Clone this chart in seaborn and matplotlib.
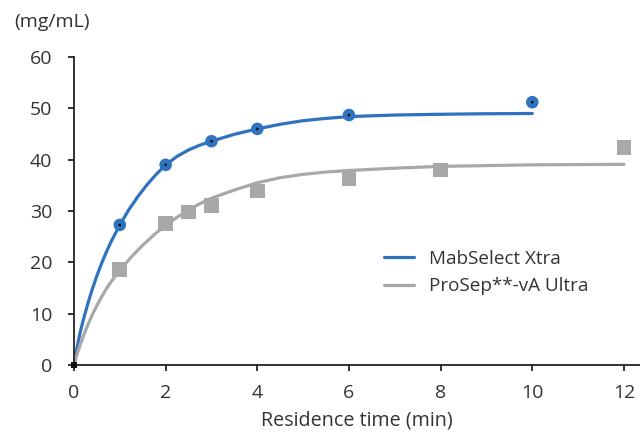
import matplotlib
matplotlib.use("Agg")
import matplotlib.pyplot as plt
import seaborn as sns
import pandas as pd

# measured data points
mab_t = [1, 2, 3, 4, 6, 10]
mab_q = [27.3, 39.0, 43.6, 46.0, 48.7, 51.2]
pro_t = [1, 2, 2.5, 3, 4, 6, 8, 12]
pro_q = [18.6, 27.6, 29.8, 31.1, 33.9, 36.3, 38.0, 42.4]

# fitted curves
mab_curve_t = [0, 0.05, 0.1, 0.15, 0.2, 0.3, 0.4, 0.5, 0.6, 0.7, 0.8, 0.9, 1.0,
               1.2, 1.4, 1.6, 1.8, 2.0, 2.25, 2.5, 2.75, 3.0, 3.5, 4.0, 4.5,
               5.0, 5.5, 6.0, 7.0, 8.0, 9.0, 10.0]
mab_curve_q = [0, 2.6, 4.9, 6.9, 8.7, 11.9, 14.8, 17.4, 19.75, 21.9, 23.85, 25.6, 27.3,
               30.3, 32.9, 35.2, 37.2, 39.0, 40.65, 41.9, 42.85, 43.6, 44.95, 46.0, 46.9,
               47.6, 48.05, 48.4, 48.7, 48.85, 48.95, 49.0]
pro_curve_t = [0, 0.05, 0.1, 0.2, 0.3, 0.4, 0.5, 0.6, 0.7, 0.8, 0.9, 1.0,
               1.25, 1.5, 1.75, 2.0, 2.25, 2.5, 2.75, 3.0, 3.5, 4.0, 4.5, 5.0,
               5.5, 6.0, 7.0, 8.0, 10.0, 12.0]
pro_curve_q = [0, 1.6, 3.0, 5.55, 7.8, 9.8, 11.6, 13.25, 14.75, 16.1, 17.3, 18.4,
               21.05, 23.35, 25.4, 27.2, 28.8, 30.2, 31.45, 32.5, 34.1, 35.5, 36.5, 37.15,
               37.6, 37.9, 38.35, 38.7, 39.0, 39.1]

labels = ["MabSelect Xtra", "ProSep**-vA Ultra"]
x_ticks = [0, 2, 4, 6, 8, 10, 12]
y_ticks = [0, 10, 20, 30, 40, 50, 60]

blue = "#2f72bf"
gray = "#a8a8aa"
txt = "#333333"
fs = 14

sns.set_style("ticks")
plt.rcParams['font.family'] = ['Open Sans', 'DejaVu Sans']

fig = plt.figure(figsize=(6.4, 4.32), dpi=100)
ax = fig.add_axes([0.1156, 0.155, 0.8844, 0.713])

curves = pd.DataFrame({
    "t": mab_curve_t + pro_curve_t,
    "q": mab_curve_q + pro_curve_q,
    "s": [labels[0]] * len(mab_curve_t) + [labels[1]] * len(pro_curve_t),
})
sns.lineplot(data=curves, x="t", y="q", hue="s", palette=[blue, gray],
             linewidth=2.3, ax=ax, sort=False, estimator=None)

sns.scatterplot(x=pro_t, y=pro_q, marker="s", s=112, color=gray,
                edgecolor="none", ax=ax, zorder=4, legend=False)
sns.scatterplot(x=mab_t, y=mab_q, marker="o", s=82, color=blue,
                edgecolor="none", ax=ax, zorder=5, legend=False)
sns.scatterplot(x=mab_t, y=mab_q, marker="o", s=4, color="#111111",
                edgecolor="none", ax=ax, zorder=6, legend=False)
sns.scatterplot(x=[0], y=[0], marker="s", s=20, color="#111111",
                edgecolor="none", ax=ax, zorder=6, legend=False, clip_on=False)

ax.set_xlim(0, 12.35)
ax.set_ylim(0, 60)
ax.set_xticks(x_ticks)
ax.set_yticks(y_ticks)
ax.tick_params(axis="both", labelsize=fs, colors="#222222", labelcolor=txt,
               length=4.5, width=1.3, direction="out")
ax.tick_params(axis="x", pad=9)
ax.tick_params(axis="y", pad=11)
for s in ["left", "bottom"]:
    ax.spines[s].set_linewidth(1.3)
    ax.spines[s].set_color("#222222")
sns.despine(ax=ax)
ax.set_xlabel("Residence time (min)", fontsize=14.2, color=txt, labelpad=6.5)
ax.set_ylabel("")
fig.text(0.022, 0.948, "(mg/mL)", fontsize=fs, color=txt, ha="left", va="center")

leg = ax.legend(loc="upper left", bbox_to_anchor=(0.534, 0.398), frameon=False,
                fontsize=13.6, handlelength=1.6, handletextpad=0.8, labelspacing=0.5,
                borderaxespad=0)
for t in leg.get_texts():
    t.set_color(txt)

fig.savefig("out.png", dpi=100)
